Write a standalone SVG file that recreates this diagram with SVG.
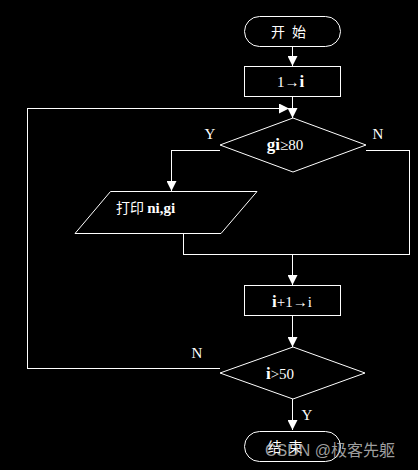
<svg xmlns="http://www.w3.org/2000/svg" width="418" height="470" viewBox="0 0 418 470">
<style>
.s{fill:none;stroke:#fff;stroke-width:1}
.t{fill:#fff;font-family:"Liberation Serif","Noto Sans CJK SC",serif;font-size:15px}
.c{fill:#fff;font-family:"Noto Sans CJK SC","Liberation Serif",serif;font-size:14px}
.b{font-weight:bold}
</style>
<defs>
<marker id="ah" markerWidth="10" markerHeight="10" refX="10" refY="5" orient="auto" markerUnits="userSpaceOnUse">
<path d="M0,0 L10,5 L0,10 Z" fill="#fff"/>
</marker>
</defs>
<rect width="418" height="470" fill="#000"/>
<g id="connectors" class="s" shape-rendering="crispEdges">
<line x1="292.5" y1="47" x2="292.5" y2="66" marker-end="url(#ah)"/>
<line x1="292.5" y1="97" x2="292.5" y2="118" marker-end="url(#ah)"/>
<polyline points="220,368.5 27.5,368.5 27.5,108.5 289,108.5" marker-end="url(#ah)"/>
<polyline points="220,150.5 171.5,150.5 171.5,191" marker-end="url(#ah)"/>
<polyline points="366,150.5 409.5,150.5 409.5,254.5 183.5,254.5 183.5,233"/>
<line x1="292.5" y1="254.5" x2="292.5" y2="285" marker-end="url(#ah)"/>
<line x1="292.5" y1="316" x2="292.5" y2="347" marker-end="url(#ah)"/>
<line x1="292.5" y1="399" x2="292.5" y2="430" marker-end="url(#ah)"/>
</g>
<g id="start">
<rect class="s" x="244.5" y="16.5" width="96" height="30" rx="15"/>
<text class="c" x="288.5" y="37" text-anchor="middle" word-spacing="4">开 始</text>
</g>
<g id="init">
<rect class="s" x="244.5" y="66.5" width="96" height="30"/>
<text class="t" x="290.5" y="87" text-anchor="middle">1→<tspan class="b" font-size="17">i</tspan></text>
</g>
<g id="cond1">
<polygon class="s" points="293,118 366,145 293,172 220,145"/>
<text class="t" x="285" y="150" text-anchor="middle"><tspan class="b" font-size="17">gi</tspan>≥80</text>
<text class="t" x="210" y="139" text-anchor="middle">Y</text>
<text class="t" x="378" y="139" text-anchor="middle">N</text>
</g>
<g id="print">
<polygon class="s" points="110.5,191.5 257,191.5 221,233.5 75,233.5"/>
<text class="c" x="116" y="213" font-size="15">打印 <tspan class="t b" font-size="17">ni,gi</tspan></text>
</g>
<g id="inc">
<rect class="s" x="244.5" y="285.5" width="96" height="30"/>
<text class="t" x="292" y="307" text-anchor="middle"><tspan class="b" font-size="17">i</tspan>+1→i</text>
</g>
<g id="cond2">
<polygon class="s" points="293,347 365,373 293,399 220,373"/>
<text class="t" x="280" y="379" text-anchor="middle"><tspan class="b" font-size="17">i</tspan>&gt;50</text>
<text class="t" x="197" y="358" text-anchor="middle">N</text>
<text class="t" x="307" y="420" text-anchor="middle">Y</text>
</g>
<g id="end">
<rect class="s" x="244.5" y="431.5" width="96" height="30" rx="15"/>
<text class="c" x="285" y="452" text-anchor="middle" word-spacing="4">结 束</text>
</g>
<text x="265" y="456" fill="#bbb" fill-opacity="0.85" font-family="'Liberation Sans','Noto Sans CJK SC',sans-serif" font-size="16">CSDN @极客先躯</text>
</svg>
